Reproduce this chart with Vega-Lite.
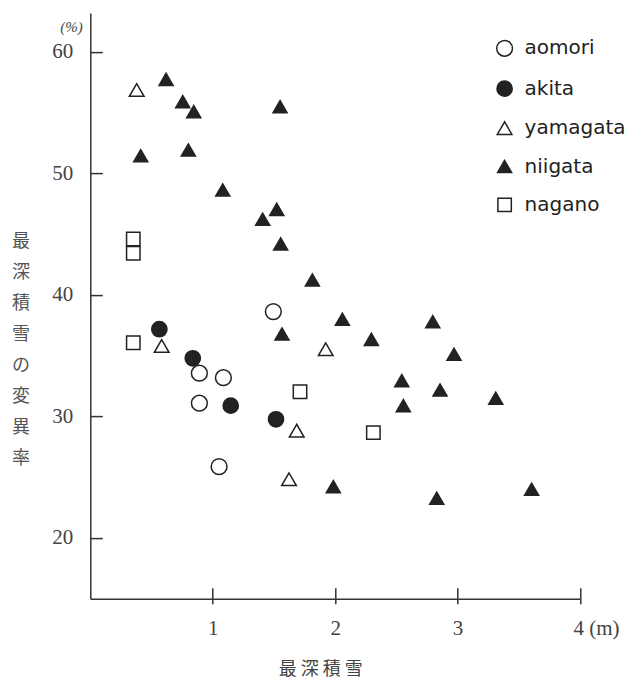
{
  "$schema": "https://vega.github.io/schema/vega-lite/v6.json",
  "autosize": "none",
  "width": 489.7,
  "height": 585.6,
  "padding": {"left": 90.3, "top": 13.1, "right": 52, "bottom": 80.3},
  "background": "#ffffff",
  "config": {"view": {"stroke": null}, "axis": {"grid": false}},
  "data": {"values": [
    {"s": "aomori", "x": 1.495, "y": 38.63},
    {"s": "aomori", "x": 0.891, "y": 33.56},
    {"s": "aomori", "x": 1.087, "y": 33.19},
    {"s": "aomori", "x": 0.891, "y": 31.09},
    {"s": "aomori", "x": 1.052, "y": 25.87},
    {"s": "akita", "x": 0.564, "y": 37.18},
    {"s": "akita", "x": 0.837, "y": 34.79},
    {"s": "akita", "x": 1.147, "y": 30.89},
    {"s": "akita", "x": 1.517, "y": 29.77},
    {"s": "yamagata", "x": 0.379, "y": 56.87},
    {"s": "yamagata", "x": 0.583, "y": 35.8},
    {"s": "yamagata", "x": 1.923, "y": 35.53},
    {"s": "yamagata", "x": 1.686, "y": 28.83},
    {"s": "yamagata", "x": 1.623, "y": 24.83},
    {"s": "niigata", "x": 0.619, "y": 57.75},
    {"s": "niigata", "x": 0.755, "y": 55.91},
    {"s": "niigata", "x": 0.845, "y": 55.09},
    {"s": "niigata", "x": 0.412, "y": 51.46},
    {"s": "niigata", "x": 0.801, "y": 51.93},
    {"s": "niigata", "x": 1.55, "y": 55.5},
    {"s": "niigata", "x": 1.082, "y": 48.64},
    {"s": "niigata", "x": 1.408, "y": 46.23},
    {"s": "niigata", "x": 1.523, "y": 47.05},
    {"s": "niigata", "x": 1.555, "y": 44.2},
    {"s": "niigata", "x": 1.814, "y": 41.23},
    {"s": "niigata", "x": 1.566, "y": 36.79},
    {"s": "niigata", "x": 2.059, "y": 38.0},
    {"s": "niigata", "x": 2.296, "y": 36.35},
    {"s": "niigata", "x": 2.797, "y": 37.8},
    {"s": "niigata", "x": 2.971, "y": 35.12},
    {"s": "niigata", "x": 2.544, "y": 32.95},
    {"s": "niigata", "x": 2.857, "y": 32.18},
    {"s": "niigata", "x": 2.557, "y": 30.89},
    {"s": "niigata", "x": 3.312, "y": 31.5},
    {"s": "niigata", "x": 1.985, "y": 24.22},
    {"s": "niigata", "x": 2.83, "y": 23.27},
    {"s": "niigata", "x": 3.605, "y": 24.01},
    {"s": "nagano", "x": 0.351, "y": 44.61},
    {"s": "nagano", "x": 0.351, "y": 43.43},
    {"s": "nagano", "x": 0.351, "y": 36.07},
    {"s": "nagano", "x": 1.713, "y": 32.04},
    {"s": "nagano", "x": 2.312, "y": 28.67}
  ]},
  "resolve": {"scale": {"x": "shared", "y": "shared"}, "axis": {"x": "independent", "y": "independent"}},
  "layer": [
    {
      "mark": {"type": "point", "opacity": 0},
      "encoding": {
        "x": {
          "field": "x", "type": "quantitative",
          "scale": {"domain": [0, 4], "nice": false, "zero": false},
          "axis": {"orient": "top", "offset": -585.6, "values": [1, 2, 3, 4], "labels": false, "domain": false,
            "tickSize": 11, "tickColor": "#333333", "tickWidth": 1.5, "title": null}
        },
        "y": {
          "field": "y", "type": "quantitative",
          "scale": {"domain": [15, 63.2], "nice": false, "zero": false},
          "axis": {"orient": "right", "offset": -489.7, "values": [20, 30, 40, 50, 60], "labels": false, "domain": false,
            "tickSize": 12, "tickColor": "#333333", "tickWidth": 1.5, "title": null}
        }
      }
    },
    {
      "mark": {"type": "point", "filled": true, "stroke": "#222222", "strokeWidth": 1.5, "opacity": 1},
      "encoding": {
        "x": {
          "field": "x", "type": "quantitative",
          "scale": {"domain": [0, 4], "nice": false, "zero": false},
          "axis": {
            "orient": "bottom",
            "values": [1, 2, 3, 4],
            "labelExpr": "datum.value == 4 ? '4 (m)' : datum.label",
            "labelAlign": {"condition": {"test": "datum.value == 4", "value": "left"}, "value": "center"},
            "labelOffset": {"condition": {"test": "datum.value == 4", "value": -7}, "value": 0},
            "labelFlush": false,
            "labelFont": "Liberation Serif", "labelFontSize": 21, "labelColor": "#444444",
            "labelPadding": 13.5,
            "tickSize": 5, "tickColor": "#333333", "tickWidth": 1.5,
            "domainColor": "#333333", "domainWidth": 1.5,
            "title": "最 深 積 雪",
            "titleFont": "Noto Sans CJK JP", "titleFontSize": 18, "titleFontWeight": "normal", "titleColor": "#444444",
            "titleX": 230, "titleY": 71, "titleAlign": "center", "titleBaseline": "middle"
          }
        },
        "y": {
          "field": "y", "type": "quantitative",
          "scale": {"domain": [15, 63.2], "nice": false, "zero": false},
          "axis": {
            "orient": "left",
            "values": [20, 30, 40, 50, 60, 62.06],
            "labelExpr": "datum.value > 61 ? '(%)' : datum.label",
            "labelFontSize": {"condition": {"test": "datum.value > 61", "value": 15}, "value": 21},
            "labelFontStyle": {"condition": {"test": "datum.value > 61", "value": "italic"}, "value": "normal"},
            "labelPadding": {"condition": {"test": "datum.value > 61", "value": 8}, "value": 17.5},
            "ticks": false,
            "labelFont": "Liberation Serif", "labelColor": "#444444", "labelBaseline": "middle",
            "labelFlush": false,
            "domainColor": "#333333", "domainWidth": 1.5,
            "title": ["最", "深", "積", "雪", "の", "変", "異", "率"],
            "titleFont": "Noto Sans CJK JP", "titleFontSize": 18, "titleFontWeight": "normal", "titleColor": "#555555",
            "titleAngle": 0, "titleLineHeight": 31.1,
            "titleX": -69.8, "titleY": 228, "titleAlign": "center", "titleBaseline": "middle"
          }
        },
        "shape": {
          "field": "s", "type": "nominal",
          "scale": {"domain": ["aomori", "akita", "yamagata", "niigata", "nagano"], "range": ["circle", "circle", "triangle-up", "triangle-up", "square"]},
          "legend": {"orient": "none", "legendX": 404.3, "legendY": 25.2, "title": null, "padding": 0,
            "labelFont": "DejaVu Sans", "labelFontSize": 20, "labelColor": "#222222", "labelOffset": 10, "rowPadding": 18.4,
            "encode": {"symbols": {"update": {"stroke": {"value": "#222222"}, "strokeWidth": {"value": 1.5}}}}}
        },
        "fill": {
          "field": "s", "type": "nominal",
          "scale": {"domain": ["aomori", "akita", "yamagata", "niigata", "nagano"], "range": ["#ffffff", "#222222", "#ffffff", "#222222", "#ffffff"]},
          "legend": {"orient": "none", "legendX": 404.3, "legendY": 25.2, "title": null, "padding": 0,
            "labelFont": "DejaVu Sans", "labelFontSize": 20, "labelColor": "#222222", "labelOffset": 10, "rowPadding": 18.4,
            "encode": {"symbols": {"update": {"stroke": {"value": "#222222"}, "strokeWidth": {"value": 1.5}}}}}
        },
        "size": {
          "field": "s", "type": "nominal",
          "scale": {"domain": ["aomori", "akita", "yamagata", "niigata", "nagano"], "range": [250, 180, 150, 210, 210]},
          "legend": {"orient": "none", "legendX": 404.3, "legendY": 25.2, "title": null, "padding": 0,
            "labelFont": "DejaVu Sans", "labelFontSize": 20, "labelColor": "#222222", "labelOffset": 10, "rowPadding": 18.4,
            "encode": {"symbols": {"update": {"stroke": {"value": "#222222"}, "strokeWidth": {"value": 1.5}}}}}
        }
      }
    }
  ]
}
